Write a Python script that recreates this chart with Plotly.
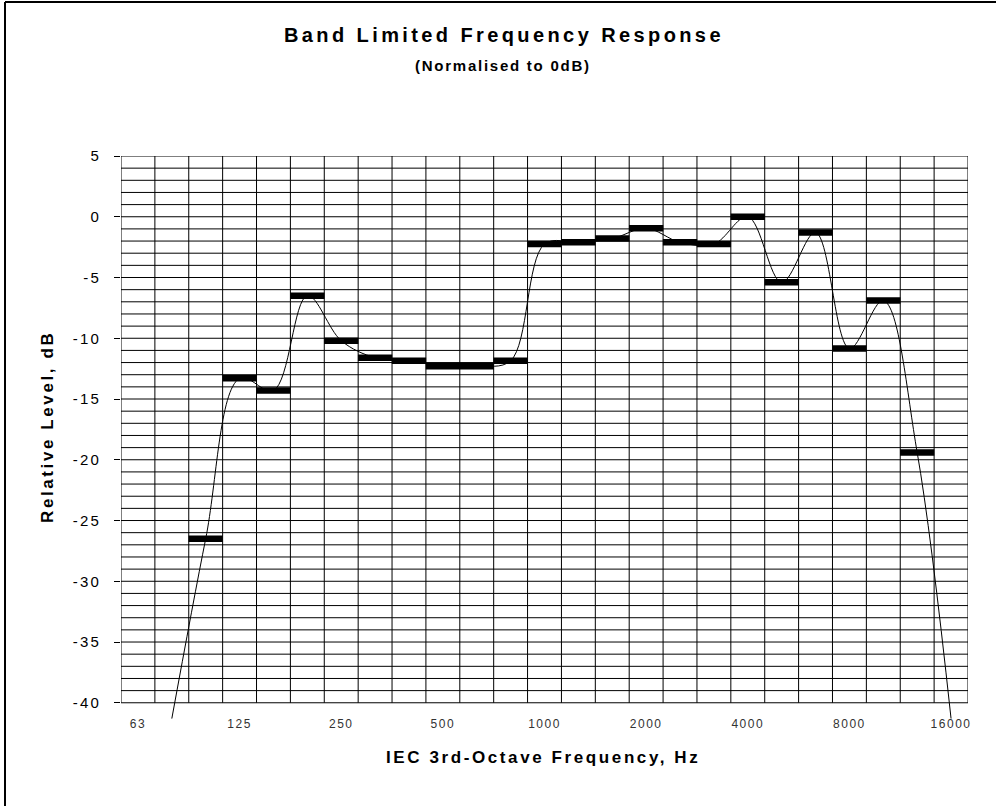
import plotly.graph_objects as go

# ---------------- data ----------------
bands = ["63", "80", "100", "125", "160", "200", "250", "315", "400", "500",
         "630", "800", "1000", "1250", "1600", "2000", "2500", "3150", "4000",
         "5000", "6300", "8000", "10000", "12500", "16000"]
levels = [None, -41.3, -26.5, -13.3, -14.3, -6.5, -10.2, -11.6, -11.85, -12.3,
          -12.3, -11.85, -2.25, -2.1, -1.8, -0.95, -2.1, -2.25, 0.0,
          -5.4, -1.3, -10.85, -6.9, -19.4, -41.3]
x_tick_labels = ["63", "125", "250", "500", "1000", "2000", "4000", "8000", "16000"]
y_tick_values = [5, 0, -5, -10, -15, -20, -25, -30, -35, -40]

Y_MIN, Y_MAX = -40, 5
Y_LOW = -41.5          # a little room so the line can run past the axis

# ---------------- geometry ----------------
W, H = 996, 806
ML, MT = 121, 156
PW, PH = 847, 565
MR = W - ML - PW
MB = H - MT - PH


def px(x):      # screen pixel -> paper x
    return (x - ML) / PW


def py(y):      # screen pixel -> paper y
    return (MT + PH - y) / PH


def sp(text, ls):
    return f'<span style="letter-spacing:{ls}px">{text}</span>'


FONT = "Liberation Sans, Arial, sans-serif"

fig = go.Figure()

fig.add_trace(go.Scatter(
    x=bands, y=levels, mode="lines",
    line=dict(shape="spline", smoothing=1, color="black", width=1),
    hoverinfo="skip", showlegend=False))

marker_levels = [v if (v is not None and v >= Y_MIN) else None for v in levels]
fig.add_trace(go.Scatter(
    x=bands, y=marker_levels, mode="markers",
    marker=dict(symbol="line-ew", size=24.5, color="black",
                line=dict(width=6.5, color="black")),
    hoverinfo="skip", showlegend=False))

shapes = []
n = len(bands)
for v in range(Y_MIN, Y_MAX + 1):
    shapes.append(dict(type="line", xref="x", yref="y", x0=-0.5, x1=n - 0.5,
                       y0=v, y1=v, line=dict(color="black", width=1), layer="below"))
for i in range(n + 1):
    shapes.append(dict(type="line", xref="x", yref="y", x0=i - 0.5, x1=i - 0.5,
                       y0=Y_MIN, y1=Y_MAX, line=dict(color="black", width=1), layer="below"))
# outer chart frame (left and top edges visible)
shapes.append(dict(type="line", xref="paper", yref="paper", x0=px(5), x1=px(5),
                   y0=py(2), y1=py(830), line=dict(color="black", width=2)))
shapes.append(dict(type="line", xref="paper", yref="paper", x0=px(5), x1=px(1020),
                   y0=py(2), y1=py(2), line=dict(color="black", width=2)))

annotations = [
    dict(text=sp("Band Limited Frequency Response", 3.4), xref="paper", yref="paper",
         x=px(504), y=py(35), showarrow=False, xanchor="center", yanchor="middle",
         font=dict(family=FONT, size=20, color="black", weight="bold")),
    dict(text=sp("(Normalised to 0dB)", 1.75), xref="paper", yref="paper",
         x=px(503), y=py(65), showarrow=False, xanchor="center", yanchor="middle",
         font=dict(family=FONT, size=15, color="black", weight="bold")),
    dict(text=sp("IEC 3rd-Octave Frequency, Hz", 2.6), xref="paper", yref="paper",
         x=px(543), y=py(757), showarrow=False, xanchor="center", yanchor="middle",
         font=dict(family=FONT, size=17, color="black", weight="bold")),
    dict(text=sp("Relative Level, dB", 2.6), xref="paper", yref="paper",
         x=px(47), y=py(427), showarrow=False, xanchor="center", yanchor="middle",
         textangle=-90,
         font=dict(family=FONT, size=17, color="black", weight="bold")),
]

fig.update_layout(
    width=W, height=H,
    margin=dict(l=ML, r=MR, t=MT, b=MB, autoexpand=False),
    paper_bgcolor="white", plot_bgcolor="white",
    shapes=shapes, annotations=annotations,
    xaxis=dict(type="category", categoryorder="array", categoryarray=bands,
               range=[-0.5, n - 0.5], showgrid=False, zeroline=False, showline=False,
               ticks="", tickmode="array", tickvals=x_tick_labels,
               ticktext=[sp(t, 1.5) for t in x_tick_labels],
               tickfont=dict(family=FONT, size=12, color="#333333"),
               ticklabelstandoff=-6, fixedrange=True),
    yaxis=dict(range=[Y_LOW, Y_MAX], showgrid=False, zeroline=False, showline=False,
               tickmode="array", tickvals=y_tick_values,
               ticktext=[sp(str(v), 2.2) for v in y_tick_values],
               ticks="outside", ticklen=6, tickcolor="black", tickwidth=1,
               tickfont=dict(family=FONT, size=15, color="black"),
               ticklabelstandoff=10, fixedrange=True),
)

fig.write_html("out.html",
               config={"displayModeBar": False, "staticPlot": True},
               post_script="document.body.style.margin='0px';"
                           "document.body.style.overflow='hidden';")
